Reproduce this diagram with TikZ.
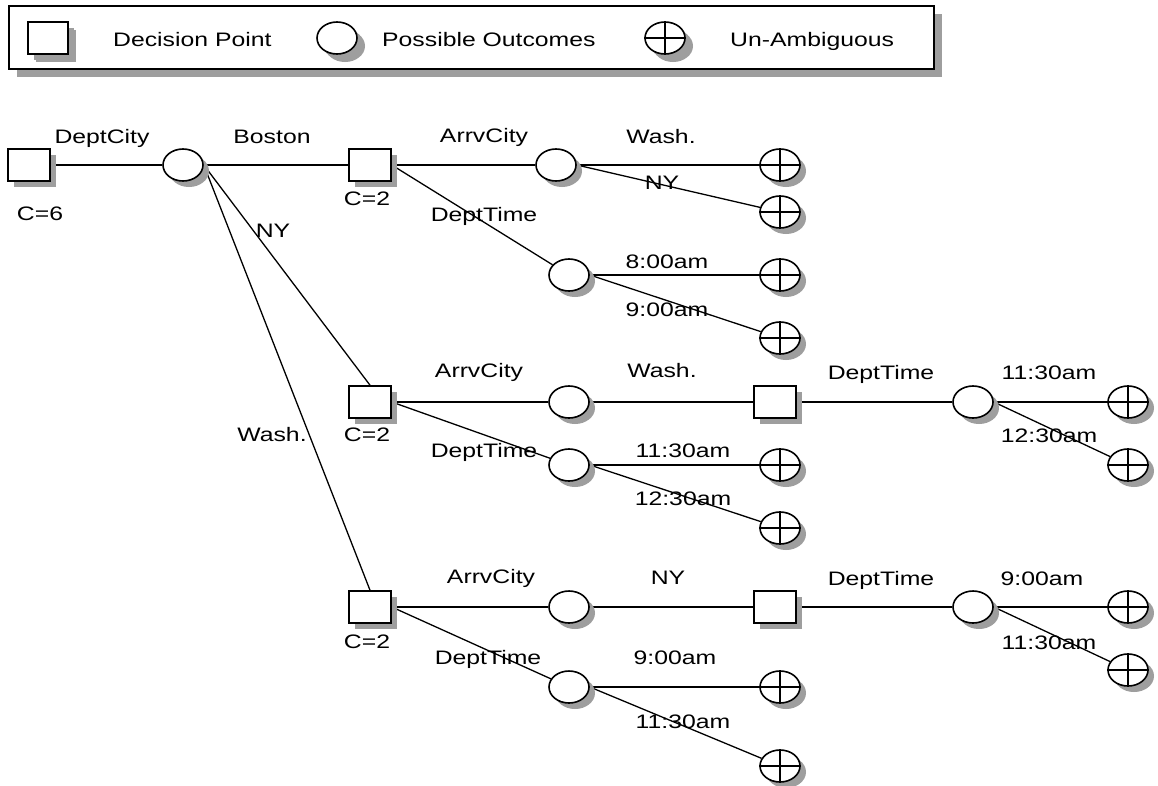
\documentclass[tikz,border=0pt]{standalone}
\usepackage{fontspec}
\setmainfont[FakeStretch=1.27]{Liberation Sans}
\usetikzlibrary{shapes.geometric,shadows}
\pgfdeclarelayer{background}
\pgfsetlayers{background,main}
\definecolor{shadegray}{HTML}{9E9E9E}
\tikzset{
  shd/.style={drop shadow={shadow xshift=#1,shadow yshift=-#1,fill=shadegray,opacity=1}},
  shd/.default=6pt,
  decision/.style={draw,line width=1.6pt,fill=white,minimum width=42pt,minimum height=32pt,inner sep=0pt,shd},
  outcome/.style={ellipse,draw,line width=1.6pt,fill=white,minimum width=40pt,minimum height=32pt,inner sep=0pt,shd},
  final/.style={outcome},
  lbl/.style={inner sep=0pt,text height=14pt,text depth=0pt,font=\fontsize{19.5}{23}\selectfont},
  edge/.style={line width=1.3pt},
  cross/.style={line width=1.5pt},
}
\begin{document}
\begin{tikzpicture}[x=1pt,y=-1pt]
\useasboundingbox (0,0) rectangle (1158,785);

% legend
\node (legend) [draw,line width=2pt,fill=white,minimum width=925pt,minimum height=63pt,inner sep=0pt,shd=8pt] at (471.5,37.5) {};
\node (lgsq) [decision,minimum width=40pt,shd=8pt] at (48,38) {};
\node (lgsqt) [lbl,anchor=west] at (113,39) {Decision Point};
\node (lgel) [outcome,shd=8pt] at (337,38) {};
\node (lgelt) [lbl,anchor=west] at (382,39) {Possible Outcomes};
\node (lgfn) [final,shd=8pt] at (665,38) {};
\node (lgfnt) [lbl,anchor=west] at (730,39) {Un-Ambiguous};

% decision tree nodes
\node (root) [decision] at (29,165) {};
\node (dc)   [outcome]  at (183,165) {};
\node (sB)   [decision] at (370,165) {};
\node (sN)   [decision] at (370,402) {};
\node (sW)   [decision] at (370,607) {};

\node (aB) [outcome] at (556,165) {};
\node (tB) [outcome] at (569,275) {};
\node (fB1) [final] at (780,165) {};
\node (fB2) [final] at (780,212) {};
\node (fB3) [final] at (780,275) {};
\node (fB4) [final] at (780,338) {};

\node (aN) [outcome] at (569,402) {};
\node (tN) [outcome] at (569,465) {};
\node (qN) [decision] at (775,402) {};
\node (eN) [outcome] at (973,402) {};
\node (fN1) [final] at (1128,402) {};
\node (fN2) [final] at (1128,465) {};
\node (fN3) [final] at (780,465) {};
\node (fN4) [final] at (780,528) {};

\node (aW) [outcome] at (569,607) {};
\node (tW) [outcome] at (569,687) {};
\node (qW) [decision] at (775,607) {};
\node (eW) [outcome] at (973,607) {};
\node (fW1) [final] at (1128,607) {};
\node (fW2) [final] at (1128,670) {};
\node (fW3) [final] at (780,687) {};
\node (fW4) [final] at (780,766) {};

% crosses of the final outcomes
\foreach \n in {lgfn,fB1,fB2,fB3,fB4,fN1,fN2,fN3,fN4,fW1,fW2,fW3,fW4}
  \draw[cross] (\n.north) -- (\n.south) (\n.west) -- (\n.east);

% connectors
\begin{pgfonlayer}{background}
\draw[edge] (root.east) -- (dc);
\draw[edge] (dc.east) -- (sB);
\draw[edge] (dc.east) -- (sN.north);
\draw[edge] (dc.east) -- (sW.north);

\draw[edge] (sB.east) -- (aB);
\draw[edge] (sB.east) -- (tB);
\draw[edge] (aB.east) -- (fB1);
\draw[edge] (aB.east) -- (fB2);
\draw[edge] (tB.east) -- (fB3);
\draw[edge] (tB.east) -- (fB4);

\draw[edge] (sN.east) -- (aN);
\draw[edge] (sN.east) -- (tN);
\draw[edge] (aN.east) -- (qN);
\draw[edge] (qN.east) -- (eN);
\draw[edge] (eN.east) -- (fN1);
\draw[edge] (eN.east) -- (fN2);
\draw[edge] (tN.east) -- (fN3);
\draw[edge] (tN.east) -- (fN4);

\draw[edge] (sW.east) -- (aW);
\draw[edge] (sW.east) -- (tW);
\draw[edge] (aW.east) -- (qW);
\draw[edge] (qW.east) -- (eW);
\draw[edge] (eW.east) -- (fW1);
\draw[edge] (eW.east) -- (fW2);
\draw[edge] (tW.east) -- (fW3);
\draw[edge] (tW.east) -- (fW4);
\end{pgfonlayer}

% labels
\node (l1) [lbl] at (102,136) {DeptCity};
\node (l2) [lbl] at (40,213) {C=6};
\node (l3) [lbl] at (272,136) {Boston};
\node (l4) [lbl] at (273,230) {NY};
\node (l5) [lbl] at (272,434) {Wash.};
\node (l6) [lbl] at (367,198) {C=2};
\node (l7) [lbl] at (367,434) {C=2};
\node (l8) [lbl] at (367,641) {C=2};

\node (l9)  [lbl] at (484,135) {ArrvCity};
\node (l10) [lbl] at (484,214) {DeptTime};
\node (l11) [lbl] at (661,136) {Wash.};
\node (l12) [lbl] at (662,182) {NY};
\node (l13) [lbl] at (667,261) {8:00am};
\node (l14) [lbl] at (667,309) {9:00am};

\node (l15) [lbl] at (479,370) {ArrvCity};
\node (l16) [lbl] at (662,370) {Wash.};
\node (l17) [lbl] at (484,450) {DeptTime};
\node (l18) [lbl] at (683,450) {11:30am};
\node (l19) [lbl] at (683,498) {12:30am};
\node (l20) [lbl] at (881,372) {DeptTime};
\node (l21) [lbl] at (1049,372) {11:30am};
\node (l22) [lbl] at (1049,435) {12:30am};

\node (l23) [lbl] at (491,576) {ArrvCity};
\node (l24) [lbl] at (668,577) {NY};
\node (l25) [lbl] at (881,578) {DeptTime};
\node (l26) [lbl] at (1042,578) {9:00am};
\node (l27) [lbl] at (1049,642) {11:30am};
\node (l28) [lbl] at (488,657) {DeptTime};
\node (l29) [lbl] at (675,657) {9:00am};
\node (l30) [lbl] at (683,721) {11:30am};
\end{tikzpicture}
\end{document}
